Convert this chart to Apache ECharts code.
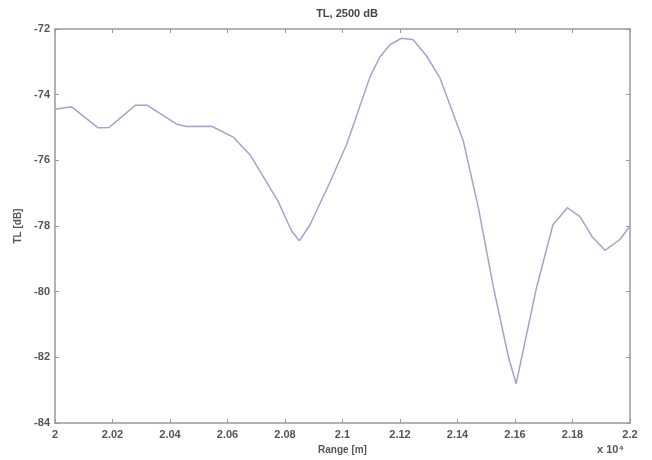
<!DOCTYPE html>
<html>
<head>
<meta charset="utf-8">
<script src="https://cdn.jsdelivr.net/npm/echarts@6/dist/echarts.min.js"></script>
<style>
  html, body { margin: 0; padding: 0; background: #ffffff; }
  #chart { width: 652px; height: 460px; }
</style>
</head>
<body>
<div id="chart"></div>
<script>
// Range (x 10^4 m) and transmission loss (dB) samples
const rangeValues = [2.000, 2.0058, 2.015, 2.0188, 2.028, 2.032, 2.0423, 2.0458, 2.0545, 2.062,
  2.068, 2.0776, 2.0823, 2.085, 2.0887, 2.0957, 2.1015, 2.1096, 2.113, 2.1165, 2.1206,
  2.1246, 2.1293, 2.1339, 2.142, 2.1473, 2.1525, 2.1577, 2.1604, 2.1675, 2.1732,
  2.1782, 2.1826, 2.1867, 2.1913, 2.1965, 2.200];
const tlValues = [-74.44, -74.37, -75.01, -75.0, -74.32, -74.32, -74.9, -74.97, -74.96, -75.29,
  -75.85, -77.25, -78.15, -78.45, -77.96, -76.65, -75.5, -73.45, -72.85, -72.48, -72.28,
  -72.33, -72.83, -73.49, -75.4, -77.46, -79.87, -81.98, -82.8, -79.87, -77.96,
  -77.44, -77.71, -78.31, -78.74, -78.41, -78.0];

const titleText = 'TL, 2500 dB';
const xAxisName = 'Range [m]';
const yAxisName = 'TL [dB]';
const xScaleNote = 'x 10\u2074';

const axisGray = '#9a9a9a';
const labelGray = '#555555';

const chart = echarts.init(document.getElementById('chart'));

const commonTick = { show: true, inside: true, length: 4, lineStyle: { color: axisGray, width: 1 } };

chart.setOption({
  animation: false,
  backgroundColor: '#ffffff',
  title: {
    text: titleText,
    left: 342, top: 3, textAlign: 'center',
    textStyle: { fontFamily: 'Arial, Liberation Sans, sans-serif', fontSize: 11, fontWeight: 'bold', color: '#444' }
  },
  graphic: [{
    type: 'text', left: 597, top: 444,
    style: { text: xScaleNote, font: 'bold 11px Arial, Liberation Sans, sans-serif', fill: labelGray }
  }],
  grid: { left: 55, right: 22, top: 29, bottom: 33 },
  xAxis: [{
    type: 'value', min: 2, max: 2.2, interval: 0.02, position: 'bottom',
    name: xAxisName, nameLocation: 'middle', nameGap: 20,
    nameTextStyle: { fontFamily: 'Arial, Liberation Sans, sans-serif', fontSize: 10, fontWeight: 'bold', color: labelGray },
    axisLine: { show: true, lineStyle: { color: axisGray, width: 1.5 } },
    axisTick: commonTick,
    axisLabel: {
      margin: 6, fontFamily: 'Arial, Liberation Sans, sans-serif', fontSize: 11, fontWeight: 'bold', color: labelGray,
      formatter: v => String(parseFloat(v.toFixed(2)))
    },
    splitLine: { show: false }
  }, {
    type: 'value', min: 2, max: 2.2, interval: 0.02, position: 'top',
    axisLine: { show: true, lineStyle: { color: axisGray, width: 1.5 } },
    axisTick: commonTick, axisLabel: { show: false }, splitLine: { show: false }
  }],
  yAxis: [{
    type: 'value', min: -84, max: -72, interval: 2, position: 'left',
    name: yAxisName, nameLocation: 'middle', nameGap: 31, nameRotate: 90,
    nameTextStyle: { fontFamily: 'Arial, Liberation Sans, sans-serif', fontSize: 10, fontWeight: 'bold', color: labelGray },
    axisLine: { show: true, lineStyle: { color: axisGray, width: 1.5 } },
    axisTick: commonTick,
    axisLabel: { margin: 5, fontFamily: 'Arial, Liberation Sans, sans-serif', fontSize: 11, fontWeight: 'bold', color: labelGray },
    splitLine: { show: false }
  }, {
    type: 'value', min: -84, max: -72, interval: 2, position: 'right',
    axisLine: { show: true, lineStyle: { color: axisGray, width: 1.5 } },
    axisTick: commonTick, axisLabel: { show: false }, splitLine: { show: false }
  }],
  series: [{
    type: 'line',
    xAxisIndex: 0, yAxisIndex: 0,
    data: rangeValues.map((r, i) => [r, tlValues[i]]),
    showSymbol: false,
    lineStyle: { color: '#a3a3cf', width: 1.5 }
  }]
});
</script>
</body>
</html>
